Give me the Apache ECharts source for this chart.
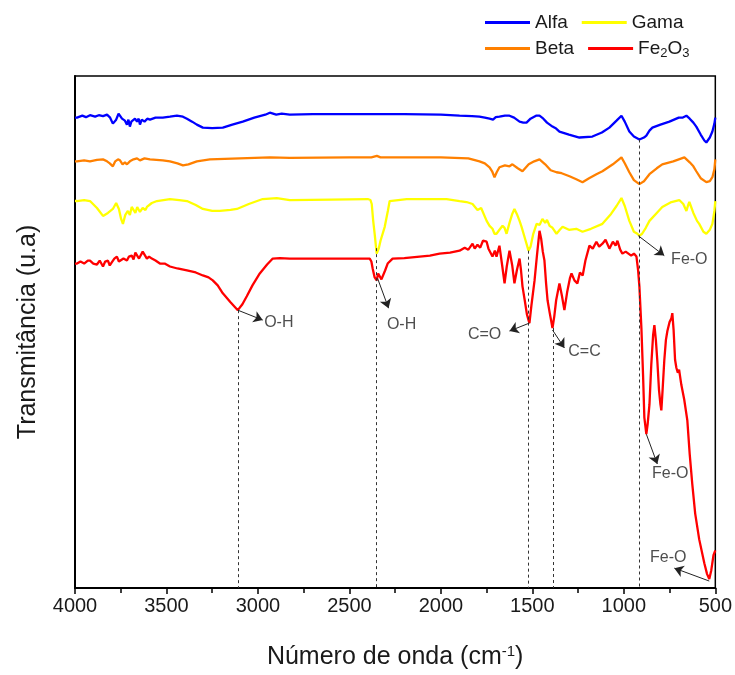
<!DOCTYPE html>
<html><head><meta charset="utf-8">
<script src="https://cdn.jsdelivr.net/npm/echarts@6/dist/echarts.min.js"></script>
<style>html,body{margin:0;padding:0;background:#fff}#c{width:735px;height:675px}</style>
</head><body><div id="c"></div>
<script>
// Wavenumber (cm-1) vs transmittance (arbitrary units, offset spectra)
const alfa = [[4000,94.8],[3989,94.8],[3960,95.2],[3940,94.9],[3918,95.3],[3890,95.0],[3870,95.3],[3847,95.1],[3825,95.4],[3808,94.8],[3793,93.6],[3775,94.4],[3762,95.6],[3754,95.4],[3743,94.6],[3727,94.2],[3716,93.4],[3708,94.4],[3700,93.0],[3692,94.0],[3683,93.6],[3672,94.6],[3661,94.0],[3652,94.6],[3645,93.4],[3635,94.4],[3620,94.0],[3605,94.6],[3590,94.4],[3560,94.8],[3520,94.8],[3481,95.0],[3443,95.2],[3410,95.0],[3388,94.6],[3360,94.0],[3334,93.4],[3301,92.8],[3250,92.7],[3192,92.8],[3140,93.4],[3083,94.0],[3020,94.8],[2960,95.4],[2935,95.8],[2900,95.4],[2870,95.6],[2826,95.4],[2700,95.5],[2500,95.5],[2200,95.5],[2000,95.4],[1898,95.2],[1830,95.1],[1789,95.0],[1760,94.8],[1734,94.6],[1715,94.4],[1700,94.9],[1680,95.0],[1650,95.2],[1625,95.2],[1600,94.8],[1570,94.0],[1550,93.8],[1532,93.8],[1510,94.6],[1480,95.2],[1461,95.2],[1440,94.6],[1420,93.8],[1390,93.0],[1370,92.6],[1352,92.0],[1300,91.4],[1243,90.8],[1172,91.0],[1120,91.8],[1079,92.8],[1040,94.2],[1013,95.2],[995,94.0],[970,92.0],[945,91.0],[915,90.4],[890,90.8],[877,91.2],[860,92.2],[844,92.8],[800,93.4],[751,94.0],[700,94.8],[680,94.8],[658,95.2],[640,94.6],[620,93.8],[604,93.0],[580,91.4],[560,90.2],[549,89.8],[530,90.8],[516,92.0],[505,93.6],[500,94.8]];
const beta = [[4000,86.0],[3989,86.0],[3950,86.2],[3918,86.0],[3880,86.3],[3847,86.4],[3825,86.0],[3810,85.6],[3793,85.0],[3780,86.0],[3765,86.4],[3754,86.2],[3740,85.4],[3727,85.8],[3716,85.4],[3700,86.0],[3680,86.4],[3661,86.6],[3645,86.2],[3620,86.6],[3590,86.4],[3520,86.2],[3481,86.0],[3440,85.6],[3410,85.2],[3380,85.4],[3334,86.0],[3263,86.4],[3100,86.6],[2935,86.8],[2826,86.7],[2500,86.8],[2380,86.8],[2350,87.1],[2330,86.8],[2000,86.8],[1850,86.6],[1789,86.0],[1760,85.6],[1734,84.8],[1720,84.0],[1707,82.8],[1695,83.8],[1680,84.8],[1650,85.2],[1625,85.0],[1609,85.4],[1580,84.6],[1554,84.0],[1520,85.4],[1490,86.0],[1461,86.4],[1430,85.4],[1400,84.2],[1368,83.8],[1340,83.6],[1297,83.0],[1260,82.4],[1226,81.8],[1190,82.6],[1150,83.4],[1117,84.0],[1060,85.4],[1013,86.8],[995,85.6],[970,83.8],[945,82.2],[915,81.4],[890,82.0],[860,83.4],[820,84.6],[790,85.4],[730,86.0],[669,86.8],[640,85.8],[620,85.0],[604,84.0],[580,82.6],[549,81.8],[530,82.0],[516,82.8],[505,84.4],[500,86.4]];
const gama = [[4000,78.0],[3989,78.0],[3950,78.2],[3918,78.0],[3880,76.6],[3847,75.0],[3820,75.6],[3793,76.4],[3775,77.6],[3771,78.0],[3760,76.4],[3748,74.4],[3738,73.4],[3725,75.2],[3711,76.0],[3700,75.2],[3690,76.8],[3683,76.6],[3670,75.6],[3660,76.8],[3645,75.8],[3630,76.6],[3615,76.2],[3607,76.8],[3580,77.6],[3552,78.0],[3481,78.4],[3430,78.2],[3388,78.0],[3340,77.2],[3301,76.4],[3250,76.0],[3208,76.0],[3150,76.2],[3115,76.4],[3050,77.4],[2974,78.4],[2897,78.6],[2826,78.2],[2600,78.3],[2400,78.4],[2385,78.2],[2378,77.4],[2370,74.0],[2362,71.4],[2351,67.4],[2340,68.4],[2330,70.0],[2307,72.8],[2290,76.0],[2280,78.0],[2187,78.4],[2000,78.4],[1969,78.4],[1898,78.0],[1860,77.8],[1827,77.4],[1800,76.2],[1780,76.6],[1750,74.0],[1734,73.0],[1718,72.4],[1707,71.4],[1696,71.4],[1680,72.2],[1663,73.0],[1652,72.6],[1641,71.4],[1625,73.6],[1610,75.4],[1598,76.4],[1585,75.4],[1570,74.0],[1559,72.8],[1540,70.4],[1521,68.0],[1510,68.8],[1495,71.4],[1477,73.4],[1460,73.2],[1445,74.4],[1430,73.6],[1420,74.2],[1406,73.0],[1390,72.6],[1368,71.4],[1350,72.2],[1335,72.8],[1300,72.2],[1260,72.4],[1226,71.8],[1180,72.4],[1117,73.4],[1070,75.4],[1040,77.0],[1013,78.6],[995,77.0],[970,74.0],[945,71.8],[926,71.4],[915,71.0],[900,71.4],[880,72.6],[860,74.0],[820,75.6],[790,76.8],[740,77.8],[697,78.2],[675,77.4],[658,76.0],[650,77.0],[642,77.8],[620,75.6],[600,74.0],[588,73.4],[565,71.8],[549,71.4],[530,72.2],[516,73.4],[505,76.0],[500,78.0]];
const fe2o3 = [[4000,65.4],[3989,65.4],[3970,65.8],[3950,65.4],[3930,66.0],[3918,66.0],[3900,65.4],[3880,65.2],[3865,66.0],[3847,64.8],[3835,65.8],[3820,66.0],[3810,65.0],[3800,65.6],[3785,66.4],[3771,66.8],[3760,65.8],[3750,65.6],[3735,66.4],[3716,66.0],[3705,66.8],[3690,67.0],[3680,66.2],[3670,67.6],[3661,68.0],[3650,66.4],[3640,66.8],[3630,67.8],[3620,67.4],[3607,66.4],[3595,66.8],[3580,66.4],[3560,66.0],[3536,65.4],[3510,65.4],[3481,64.8],[3440,64.4],[3388,64.0],[3340,63.6],[3301,63.0],[3270,62.6],[3247,62.0],[3220,61.0],[3192,59.4],[3150,57.6],[3110,56.0],[3085,57.2],[3061,58.8],[3030,61.0],[2990,63.4],[2950,65.2],[2919,66.4],[2880,66.5],[2826,66.4],[2600,66.4],[2389,66.4],[2380,65.8],[2373,64.4],[2362,62.6],[2351,62.0],[2343,63.4],[2335,63.0],[2325,62.2],[2318,62.4],[2305,64.0],[2291,65.4],[2264,66.4],[2200,66.5],[2116,66.8],[2060,67.0],[2007,67.4],[1950,67.6],[1898,68.0],[1870,68.6],[1850,68.2],[1827,69.4],[1815,68.4],[1800,69.2],[1785,68.6],[1770,70.0],[1750,69.8],[1740,68.4],[1734,68.8],[1718,66.8],[1705,68.0],[1696,66.8],[1680,69.0],[1665,65.0],[1652,61.4],[1640,64.8],[1625,68.0],[1610,65.0],[1598,61.4],[1585,64.0],[1570,66.4],[1562,64.0],[1554,60.8],[1540,57.6],[1530,55.2],[1521,54.0],[1516,53.4],[1505,57.0],[1488,62.0],[1475,67.0],[1461,72.0],[1452,70.4],[1443,67.8],[1434,66.0],[1425,61.4],[1417,58.0],[1405,55.4],[1390,52.4],[1380,54.8],[1370,58.0],[1352,61.4],[1338,58.8],[1325,56.0],[1310,59.6],[1295,62.4],[1286,63.4],[1270,62.0],[1254,61.4],[1240,63.6],[1225,63.0],[1210,66.0],[1188,69.0],[1170,68.4],[1150,69.8],[1135,68.8],[1117,69.4],[1100,70.2],[1079,68.4],[1060,69.8],[1045,69.0],[1035,70.0],[1020,68.2],[1008,67.4],[990,67.8],[960,67.0],[945,67.4],[931,66.8],[922,64.0],[915,60.8],[904,52.4],[895,43.0],[888,34.4],[877,31.0],[870,33.0],[860,37.0],[850,45.0],[840,51.0],[833,53.0],[825,50.0],[817,45.8],[808,40.0],[800,37.0],[795,35.8],[788,40.0],[779,45.8],[770,50.0],[762,51.8],[750,53.6],[740,54.4],[735,55.4],[728,52.0],[720,46.0],[713,44.4],[705,43.4],[698,44.0],[690,42.0],[686,41.0],[670,38.0],[653,33.8],[640,27.0],[626,21.0],[610,15.0],[588,9.8],[560,5.0],[545,2.8],[533,1.8],[522,3.6],[510,6.6],[505,7.0],[500,7.6]];

const seriesNames = ['Alfa', 'Beta', 'Gama', 'Fe2O3'];
const seriesColors = ['#0000ff', '#ff8000', '#ffff00', '#ff0000'];
const xTicks = [500, 1000, 1500, 2000, 2500, 3000, 3500, 4000];

// Band assignments: dashed guide [wavenumber, start transmittance]
const guideLines = [[3110, 56.0], [2355, 68.5], [1521, 68.0], [1385, 52.4], [915, 90.4]];
// Arrows: [from wn, from T, to wn, to T]
const arrows = [[3110, 56.0, 2974, 54.0], [2346, 62.4, 2286, 56.4], [1516, 53.4, 1625, 51.8], [1390, 52.0, 1325, 48.4], [921, 71.0, 779, 67.0], [877, 31.0, 817, 25.0], [533, 1.4, 724, 4.0]];
// Labels: [wn, T, text]
const bandLabels = [[2886, 53.4, 'O-H'], [2215, 53.0, 'O-H'], [1761, 51.0, 'C=O'], [1215, 47.6, 'C=C'], [642, 66.2, 'Fe-O'], [746, 23.0, 'Fe-O'], [757, 6.2, 'Fe-O']];

const FONT = 'Liberation Sans, Arial, sans-serif';
const chart = echarts.init(document.getElementById('c'), null, {renderer: 'canvas'});
const data = [alfa, beta, gama, fe2o3];

const series = seriesNames.map((n, i) => ({
  name: n, type: 'line', data: data[i], showSymbol: false, symbol: 'none',
  color: seriesColors[i], lineStyle: {width: 2.3, color: seriesColors[i]}, z: 3
}));
series.push({
  name: 'guides', type: 'line', data: [], silent: true,
  markLine: {
    silent: true, symbol: ['none', 'none'], label: {show: false},
    lineStyle: {type: [3, 3], color: '#333', width: 1},
    emphasis: {disabled: true},
    data: guideLines.map(g => [{coord: [g[0], g[1]]}, {coord: [g[0], 0]}])
  }
});
series.push({
  name: 'arrows', type: 'line', data: [], silent: true,
  markLine: {
    silent: true, symbol: ['none', 'arrow'], symbolSize: 9, label: {show: false},
    lineStyle: {type: 'solid', color: '#222', width: 1},
    emphasis: {disabled: true},
    data: arrows.map(a => [{coord: [a[0], a[1]]}, {coord: [a[2], a[3]]}])
  }
});
series.push({
  name: 'labels', type: 'scatter', symbolSize: 0, silent: true,
  data: bandLabels.map(l => ({value: [l[0], l[1]], name: l[2]})),
  label: {show: true, position: 'inside', formatter: p => p.name, fontSize: 16, color: '#222', fontFamily: FONT}
});

const legendFmt = name => name === 'Fe2O3' ? '{a|Fe}{s|2}{a|O}{s|3}' : '{a|' + name + '}';
const legendText = {fontFamily: FONT, color: '#1a1a1a', rich: {a: {fontSize: 19, fontFamily: FONT, color: '#1a1a1a'}, s: {fontSize: 13, fontFamily: FONT, color: '#1a1a1a', padding: [10, 0, 0, 0]}}};
const legendBase = {icon: 'rect', itemWidth: 45, itemHeight: 3, itemGap: 14, formatter: legendFmt, textStyle: legendText, selectedMode: false, left: 485, padding: 0};

chart.setOption({
  animation: false,
  backgroundColor: '#fff',
  legend: [
    Object.assign({data: [seriesNames[0], seriesNames[2]], top: 13}, legendBase),
    Object.assign({data: [seriesNames[1], seriesNames[3]], top: 39}, legendBase)
  ],
  grid: {left: 75, right: 19, top: 76, bottom: 83, show: true, borderColor: '#000', borderWidth: 1.5},
  xAxis: {
    type: 'value', min: 500, max: 4000, interval: 500, inverse: true,
    axisLine: {lineStyle: {color: '#000', width: 2}},
    axisTick: {length: 6, lineStyle: {color: '#000', width: 1.5}},
    minorTick: {show: true, splitNumber: 2, length: 5, lineStyle: {color: '#000', width: 1.5}},
    axisLabel: {fontSize: 20, color: '#1a1a1a', margin: 8, fontFamily: FONT,
      formatter: v => xTicks.includes(v) ? String(v) : ''},
    splitLine: {show: false},
    name: '{a|Número de onda (cm}{s|-1}{a|)}', nameLocation: 'middle', nameGap: 56,
    nameTextStyle: {fontFamily: FONT, color: '#1a1a1a', rich: {
      a: {fontSize: 25, fontFamily: FONT, color: '#1a1a1a'},
      s: {fontSize: 15, fontFamily: FONT, color: '#1a1a1a', padding: [0, 0, 12, 0]}}}
  },
  yAxis: {
    type: 'value', min: 0, max: 103.2,
    axisLine: {show: true, lineStyle: {color: '#000', width: 2}},
    axisTick: {show: false}, axisLabel: {show: false}, splitLine: {show: false},
    name: 'Transmitância (u.a)', nameLocation: 'middle', nameGap: 34,
    nameTextStyle: {fontSize: 25, fontFamily: FONT, color: '#1a1a1a'}
  },
  series: series
});
</script></body></html>
